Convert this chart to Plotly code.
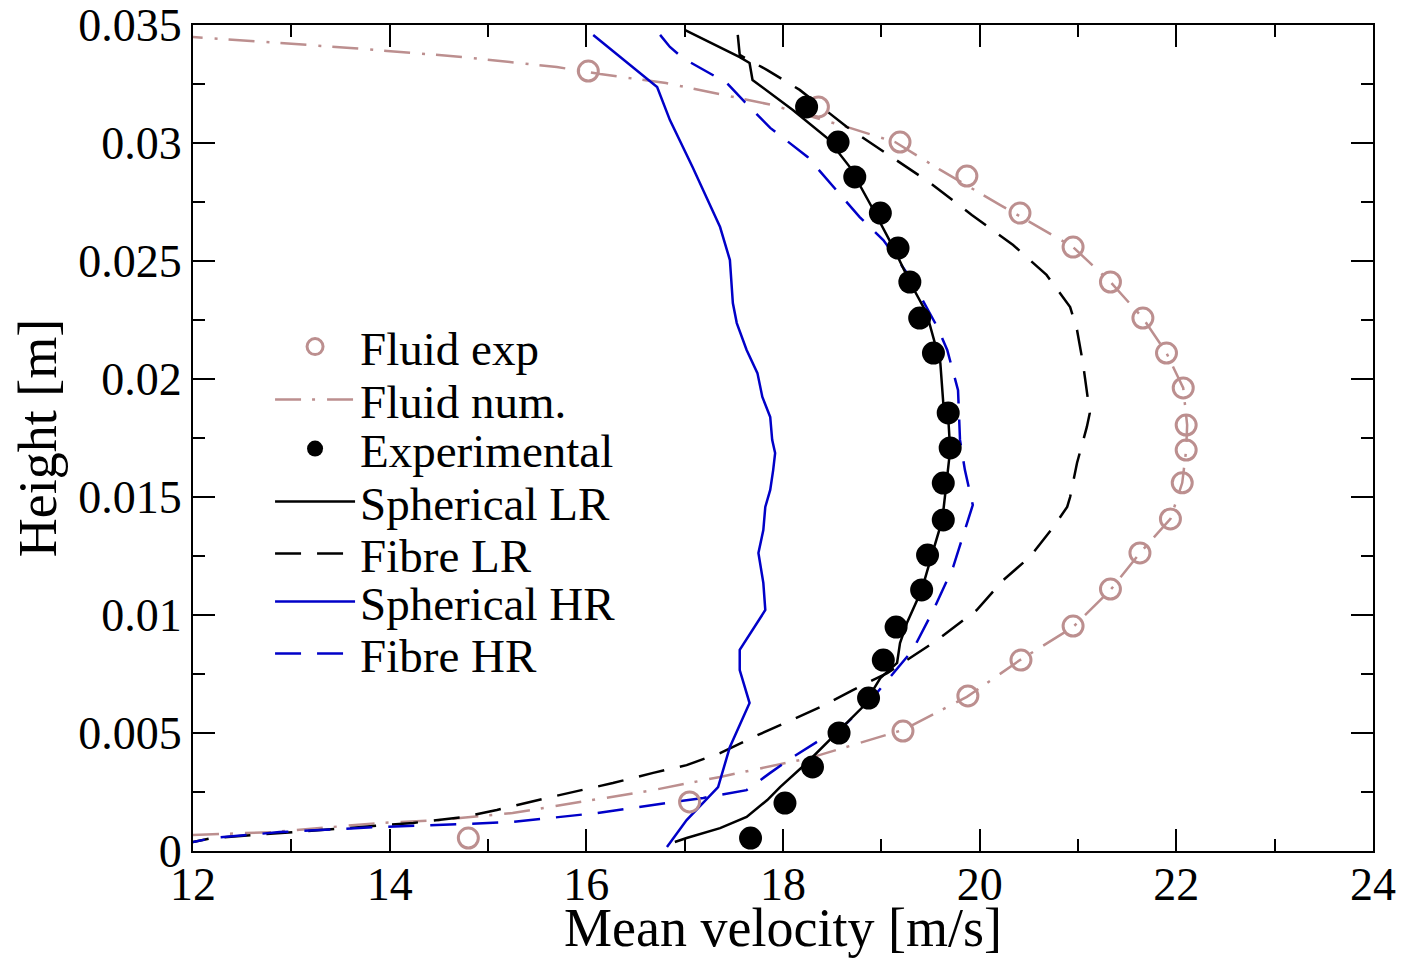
import plotly.graph_objects as go

# ---------------- data ----------------
fluid_exp_v = [16.02, 18.36, 19.19, 19.87, 20.41, 20.95, 21.33, 21.66, 21.90, 22.07, 22.10,
               22.10, 22.06, 21.94, 21.63, 21.33, 20.95, 20.42, 19.88, 19.22, 17.05, 14.80]
fluid_exp_h = [0.03305, 0.03153, 0.03004, 0.0286, 0.02703, 0.02559, 0.02411, 0.02258, 0.0211,
               0.01962, 0.01805, 0.01699, 0.0156, 0.01407, 0.01263, 0.0111, 0.00953, 0.00809,
               0.00657, 0.00508, 0.00208, 0.00055]

fluid_num_v = [12.0, 12.81, 13.90, 14.51, 15.25, 15.94, 16.68, 17.36, 18.27, 18.71, 19.22,
               19.87, 20.41, 20.95, 21.33, 21.63, 21.94, 22.06, 22.10, 22.11, 22.07, 21.90,
               21.66, 21.33, 20.95, 20.21, 19.60, 19.14, 18.68, 17.89, 17.31, 16.81, 16.14,
               15.70, 14.75, 13.60, 12.0]
fluid_num_h = [0.00068, 0.0008, 0.00119, 0.00131, 0.00161, 0.00208, 0.00258, 0.00314, 0.00394,
               0.00449, 0.00513, 0.00653, 0.00809, 0.00949, 0.01106, 0.01263, 0.01407, 0.0156,
               0.01699, 0.01805, 0.01962, 0.0211, 0.02258, 0.02411, 0.02559, 0.02737, 0.02886,
               0.03004, 0.03064, 0.03161, 0.03212, 0.03254, 0.03292, 0.03322, 0.03364, 0.03403,
               0.03449]

exp_v = [18.24, 18.56, 18.73, 18.99, 19.17, 19.29, 19.39, 19.53, 19.68, 19.70, 19.63, 19.63,
         19.47, 19.41, 19.15, 19.02, 18.87, 18.57, 18.30, 18.02, 17.67]
exp_h = [0.03153, 0.03004, 0.02856, 0.02703, 0.02555, 0.02411, 0.02258, 0.0211, 0.01856,
         0.01708, 0.01559, 0.01403, 0.01254, 0.01106, 0.00949, 0.00809, 0.00648, 0.005,
         0.00356, 0.00203, 0.00055]

sph_lr_v = [17.00, 17.56, 17.66, 17.69, 18.10, 18.45, 18.68, 18.81, 18.92, 19.12, 19.29, 19.46,
            19.60, 19.63, 19.68, 19.70, 19.65, 19.62, 19.52, 19.41, 19.26, 19.19, 19.16, 18.99,
            18.81, 18.55, 18.24, 17.97, 17.84, 17.63, 17.36, 17.02, 16.90]
sph_lr_h = [0.03479, 0.03364, 0.03339, 0.03267, 0.0314, 0.03021, 0.02898, 0.02801, 0.02716,
            0.02559, 0.02411, 0.0228, 0.02068, 0.01898, 0.01839, 0.01699, 0.0153, 0.01403,
            0.01263, 0.01106, 0.00966, 0.00881, 0.00797, 0.00733, 0.0061, 0.005, 0.00373,
            0.00271, 0.00216, 0.00144, 0.00097, 0.00055, 0.00038]

fib_lr_v = [17.54, 17.56, 17.84, 18.17, 18.65, 19.04, 19.50, 19.92, 20.34, 20.68, 20.92, 20.99,
            21.05, 21.12, 21.09, 20.99, 20.92, 20.89, 20.75, 20.51, 20.24, 19.97, 19.57, 19.06,
            18.71, 18.38, 18.04, 17.70, 17.36, 17.02, 16.68, 16.27, 15.60, 15.09, 14.75, 14.24,
            13.57, 12.88, 12.20, 12.0]
fib_lr_h = [0.03458, 0.03373, 0.03309, 0.03225, 0.03068, 0.02958, 0.0283, 0.02695, 0.02568,
            0.02441, 0.02305, 0.02208, 0.02068, 0.01856, 0.01797, 0.01644, 0.015, 0.01458,
            0.01373, 0.01246, 0.01148, 0.01021, 0.00894, 0.00754, 0.00682, 0.0061, 0.00547,
            0.00483, 0.00415, 0.00364, 0.00331, 0.00288, 0.00225, 0.00174, 0.00144, 0.00119,
            0.00097, 0.00076, 0.00055, 0.00038]

sph_hr_v = [16.07, 16.72, 16.85, 17.08, 17.36, 17.46, 17.49, 17.53, 17.63, 17.74, 17.79, 17.87,
            17.89, 17.92, 17.90, 17.87, 17.82, 17.80, 17.75, 17.80, 17.82, 17.56, 17.56, 17.66,
            17.46, 17.34, 17.02, 16.82]
sph_hr_h = [0.03458, 0.03237, 0.03097, 0.02898, 0.02644, 0.02504, 0.02322, 0.02237, 0.02123,
            0.02025, 0.01924, 0.01839, 0.01742, 0.01686, 0.01614, 0.0153, 0.01458, 0.0136,
            0.01263, 0.01136, 0.01021, 0.00852, 0.00767, 0.00627, 0.00441, 0.00271, 0.00131,
            0.00017]

fib_hr_v = [16.75, 16.85, 16.98, 17.43, 17.61, 17.87, 18.25, 18.51, 18.78, 19.02, 19.29, 19.57,
            19.67, 19.78, 19.80, 19.85, 19.93, 19.73, 19.53, 19.32, 19.12, 18.92, 18.65, 18.38,
            18.10, 17.87, 17.63, 17.19, 16.68, 16.11, 15.25, 14.75, 13.90, 12.88, 12.20, 12.0]
fib_hr_h = [0.03458, 0.03407, 0.0336, 0.03254, 0.03174, 0.03064, 0.02941, 0.02814, 0.02686,
            0.02589, 0.02432, 0.0222, 0.02123, 0.01953, 0.01742, 0.01614, 0.01466, 0.01203,
            0.01021, 0.00852, 0.00754, 0.00653, 0.00542, 0.0047, 0.00398, 0.00331, 0.00258,
            0.00225, 0.00195, 0.00161, 0.00123, 0.00114, 0.00102, 0.0008, 0.00055, 0.00038]

x_ticks = [12, 14, 16, 18, 20, 22, 24]
y_ticks = [0, 0.005, 0.01, 0.015, 0.02, 0.025, 0.03, 0.035]
y_tick_labels = ["0", "0.005", "0.01", "0.015", "0.02", "0.025", "0.03", "0.035"]

series_names = ["Fluid exp", "Fluid num.", "Experimental", "Spherical LR",
                "Fibre LR", "Spherical HR", "Fibre HR"]

# ---------------- styling ----------------
BROWN = "#bc8f8f"
BLUE = "#0000c8"
FONT = "Liberation Serif"
LEG_Y = [0.6101, 0.5460, 0.4867, 0.4225, 0.3595, 0.3014, 0.2385]

fig = go.Figure()

# lines first, markers on top
fig.add_trace(go.Scatter(x=fluid_num_v, y=fluid_num_h, mode="lines", name=series_names[1],
                         line=dict(color=BROWN, width=2.5, dash="26px,11px,3px,12px"),
                         legend="legend2"))
fig.add_trace(go.Scatter(x=fib_lr_v, y=fib_lr_h, mode="lines", name=series_names[4],
                         line=dict(color="black", width=2.5, dash="26px,16px"),
                         legend="legend5"))
fig.add_trace(go.Scatter(x=sph_hr_v, y=sph_hr_h, mode="lines", name=series_names[5],
                         line=dict(color=BLUE, width=2.5),
                         legend="legend6"))
fig.add_trace(go.Scatter(x=fib_hr_v, y=fib_hr_h, mode="lines", name=series_names[6],
                         line=dict(color=BLUE, width=2.5, dash="26px,16px"),
                         legend="legend7"))
fig.add_trace(go.Scatter(x=sph_lr_v, y=sph_lr_h, mode="lines", name=series_names[3],
                         line=dict(color="black", width=2.5),
                         legend="legend4"))
fig.add_trace(go.Scatter(x=fluid_exp_v, y=fluid_exp_h, mode="markers", name=series_names[0],
                         marker=dict(symbol="circle-open", size=20, color=BROWN,
                                     line=dict(width=3, color=BROWN)),
                         legend="legend"))
fig.add_trace(go.Scatter(x=exp_v, y=exp_h, mode="markers", name=series_names[2],
                         marker=dict(symbol="circle", size=23, color="black"),
                         legend="legend3"))

legend_common = dict(font=dict(family=FONT, size=47, color="black"),
                     bgcolor="rgba(0,0,0,0)", borderwidth=0, itemwidth=80,
                     xanchor="left", yanchor="middle", x=0.0653, tracegroupgap=0)
layout_legends = {}
keys = ["legend", "legend2", "legend3", "legend4", "legend5", "legend6", "legend7"]
for k, yy in zip(keys, LEG_Y):
    layout_legends[k] = dict(legend_common, y=yy)

axis_common = dict(showgrid=False, zeroline=False, showline=True, linecolor="black",
                   linewidth=2, mirror="allticks", ticks="inside", ticklen=22, tickwidth=2,
                   tickcolor="black", automargin=False, ticklabeloverflow="allow",
                   tickfont=dict(family=FONT, size=46, color="black"))

# the page body adds an 8 px offset, so the figure is sized to fit the window
fig.update_layout(
    width=1396, height=950,
    margin=dict(l=185, r=31, t=17, b=107),
    plot_bgcolor="white", paper_bgcolor="white",
    showlegend=True,
    **layout_legends,
    xaxis=dict(axis_common, range=[12, 24], tickvals=x_ticks, ticklabelstandoff=-8,
               minor=dict(dtick=1, ticks="inside", ticklen=12, tickwidth=2, tickcolor="black"),
               title=dict(text="Mean velocity [m/s]", font=dict(family=FONT, size=54, color="black"),
                          standoff=2)),
    yaxis=dict(axis_common, range=[0, 0.035], tickvals=y_ticks, ticktext=y_tick_labels,
               minor=dict(dtick=0.0025, ticks="inside", ticklen=12, tickwidth=2, tickcolor="black"),
               title=dict(text="Height [m]", font=dict(family=FONT, size=54, color="black"),
                          standoff=4)),
)

fig.write_html("out.html")
